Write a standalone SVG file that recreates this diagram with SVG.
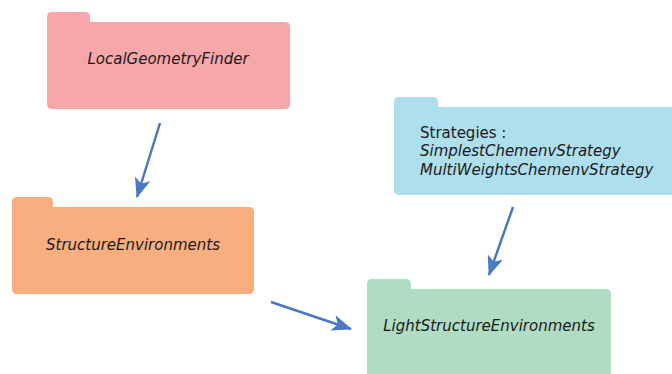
<svg xmlns="http://www.w3.org/2000/svg" width="672" height="374" viewBox="0 0 672 374">
  <style>
    .label { font-family: "DejaVu Sans", "Liberation Sans", sans-serif; font-size: 15px; fill: #1a1a1a; }
    .it { font-style: italic; }
    .edge { stroke: #4a78c2; stroke-width: 2.5; fill: none; marker-end: url(#head); }
  </style>
  <defs>
    <marker id="head" markerUnits="userSpaceOnUse" markerWidth="22" markerHeight="16" refX="19" refY="8" orient="auto" viewBox="0 0 22 16">
      <path d="M0,0 L20,8 L0,16 L5,8 Z" fill="#4a78c2"/>
    </marker>
  </defs>

  <rect width="672" height="374" fill="#ffffff"/>

  <g id="local-geometry-finder">
    <path d="M52,12 H85 Q90,12 90,17 V22 H285 Q290,22 290,27 V104 Q290,109 285,109 H52 Q47,109 47,104 V17 Q47,12 52,12 Z" fill="#f7a6a9"/>
    <text class="label it" x="168" y="64" text-anchor="middle">LocalGeometryFinder</text>
  </g>

  <g id="strategies">
    <path d="M399,97 H433 Q438,97 438,102 V107 H672 V195 H399 Q394,195 394,190 V102 Q394,97 399,97 Z" fill="#aedfee"/>
    <text class="label" x="420" y="137.5">Strategies :</text>
    <text class="label it" x="420" y="156">SimplestChemenvStrategy</text>
    <text class="label it" x="420" y="174.5">MultiWeightsChemenvStrategy</text>
  </g>

  <g id="structure-environments">
    <path d="M17,197 H48 Q53,197 53,202 V207 H249 Q254,207 254,212 V289 Q254,294 249,294 H17 Q12,294 12,289 V202 Q12,197 17,197 Z" fill="#f8ae7f"/>
    <text class="label it" x="133" y="250" text-anchor="middle">StructureEnvironments</text>
  </g>

  <g id="light-structure-environments">
    <path d="M372,279 H406 Q411,279 411,284 V289 H606 Q611,289 611,294 V374 H367 V284 Q367,279 372,279 Z" fill="#b0dcc4"/>
    <text class="label it" x="489" y="331" text-anchor="middle">LightStructureEnvironments</text>
  </g>

  <g id="connectors">
    <line class="edge" x1="160" y1="123" x2="137" y2="197"/>
    <line class="edge" x1="271" y1="302" x2="351" y2="329"/>
    <line class="edge" x1="513" y1="207" x2="489" y2="275"/>
  </g>
</svg>
